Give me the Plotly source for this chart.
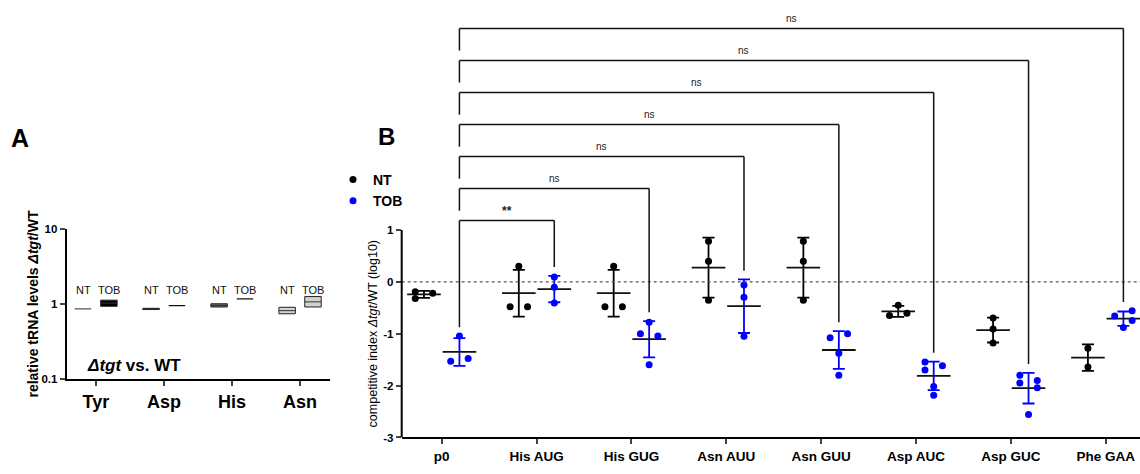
import numpy as np
import plotly.graph_objects as go

# ---------------- Panel A data ----------------
trna = ["Tyr", "Asp", "His", "Asn"]
a_nt_min = [0.854, 0.838, 0.906, 0.736]
a_nt_max = [0.854, 0.870, 1.000, 0.898]
a_nt_mean = [0.854, 0.854, 0.950, 0.810]
a_tob_min = [0.925, 0.942, 1.160, 0.906]
a_tob_max = [1.117, 0.942, 1.160, 1.247]
a_tob_mean = [1.020, 0.942, 1.160, 1.060]
a_fill = ["#000000", "#000000", "#6a6a6a", "#d2d2d2"]

# ---------------- Panel B data ----------------
codons = ["p0", "His AUG", "His GUG", "Asn AUU", "Asn GUU", "Asp AUC", "Asp GUC", "Phe GAA"]
nt_values = [
    [-0.19, -0.22, -0.32],
    [0.30, -0.48, -0.48],
    [0.30, -0.48, -0.48],
    [0.78, 0.395, -0.357],
    [0.78, 0.395, -0.357],
    [-0.45, -0.65, -0.607],
    [-0.70, -0.908, -1.18],
    [-1.28, -1.64],
]
tob_values = [
    [-1.045, -1.53, -1.48],
    [0.094, -0.105, -0.41],
    [-0.78, -1.00, -1.045, -1.60],
    [-0.062, -0.30, -1.05],
    [-1.00, -1.077, -1.378, -1.80],
    [-1.547, -1.62, -1.70, -2.017, -2.186],
    [-1.80, -1.90, -1.95, -2.04, -2.555],
    [-0.557, -0.657, -0.745, -0.883],
]
# horizontal scatter spread of the dots (layout, in category units)
nt_jitter = [
    [-1, 1, -1], [0, -1, 1], [0, -1, 1], [0, 0, 0], [0, 0, 0],
    [0, -1, 1], [0, 0, 0], [0, 0],
]
tob_jitter = [
    [0, -1, 1], [0, 0, 0], [0, -1, 1, 0], [0, 0, 0], [1, -1, 0, 0],
    [-1, 1, -1, 0, 0], [-1, 1, -1, 1, 0], [1, -1, 1, 0],
]
comparisons = ["His AUG", "His GUG", "Asn AUU", "Asn GUU", "Asp AUC", "Asp GUC", "Phe GAA"]
comp_labels = ["**", "ns", "ns", "ns", "ns", "ns", "ns"]

W, H = 1140, 474
FONT = "Liberation Sans, Arial, sans-serif"
BLUE = "#0000FF"

fig = go.Figure()

# ---------------- Panel A drawing ----------------
A_OFF = 0.19
A_HW = 0.121
for i, name in enumerate(trna):
    for off, lo, hi, mid in [(-A_OFF, a_nt_min[i], a_nt_max[i], a_nt_mean[i]),
                             (A_OFF, a_tob_min[i], a_tob_max[i], a_tob_mean[i])]:
        c = i + off
        if hi > lo:
            fig.add_trace(go.Scatter(
                x=[c - A_HW, c + A_HW, c + A_HW, c - A_HW, c - A_HW],
                y=[lo, lo, hi, hi, lo], mode="lines", fill="toself",
                fillcolor=a_fill[i], line=dict(color="#222222", width=1),
                xaxis="x", yaxis="y", showlegend=False, hoverinfo="skip"))
            fig.add_trace(go.Scatter(
                x=[c - A_HW, c + A_HW], y=[mid, mid], mode="lines",
                line=dict(color="#333333", width=1),
                xaxis="x", yaxis="y", showlegend=False, hoverinfo="skip"))
        else:
            fig.add_trace(go.Scatter(
                x=[c - A_HW, c + A_HW], y=[mid, mid], mode="lines",
                line=dict(color="#555555" if i == 0 else "#111111", width=1.3),
                xaxis="x", yaxis="y", showlegend=False, hoverinfo="skip"))

annotations = []
for i, name in enumerate(trna):
    for off, t in [(-A_OFF, "NT"), (A_OFF, "TOB")]:
        annotations.append(dict(x=i + off, y=np.log10(1.52), xref="x", yref="y",
                                xanchor="center", yanchor="middle",
                                text=t, showarrow=False,
                                font=dict(family=FONT, size=11, color="#111")))

# ---------------- Panel B drawing ----------------
G_OFF = 0.187
J = 0.092
for series, vals, jit, col, name in [(0, nt_values, nt_jitter, "#000000", "NT"),
                                     (1, tob_values, tob_jitter, BLUE, "TOB")]:
    off = -G_OFF if series == 0 else G_OFF
    xs, ys = [], []
    for k, (v, jj) in enumerate(zip(vals, jit)):
        for val, j in zip(v, jj):
            xs.append(k + off + j * J)
            ys.append(val)
    means = [float(np.mean(v)) for v in vals]
    sds = [float(np.std(v, ddof=1)) for v in vals]
    fig.add_trace(go.Scatter(
        x=[k + off for k in range(len(vals))], y=means, mode="markers",
        marker=dict(symbol="line-ew", size=24, color="#000",
                    line=dict(color="#111111", width=1.8)),
        error_y=dict(type="data", array=sds, visible=True, color=col,
                     thickness=1.8, width=6),
        xaxis="x2", yaxis="y2", showlegend=False, hoverinfo="skip"))
    fig.add_trace(go.Scatter(
        x=xs, y=ys, mode="markers", name="<b>" + name + "</b>",
        marker=dict(size=7, color=col),
        xaxis="x2", yaxis="y2", showlegend=True))

shapes = []
# zero reference line
shapes.append(dict(type="line", xref="x2", yref="y2", x0=-0.4217, x1=7.362, y0=0, y1=0,
                   line=dict(color="#555555", width=1.2, dash="dot")))
# y axis line of panel B (from -3 to 1 only)
shapes.append(dict(type="line", xref="paper", yref="y2", x0=401.7 / W, x1=401.7 / W,
                   y0=-3, y1=1, line=dict(color="#000", width=2)))


def top_of(v):
    return max(float(np.mean(v) + np.std(v, ddof=1)), max(v))


GAP = 0.17
LEVEL0 = 1.18
STEP = 0.617
LEG = 0.427
x_ref = 0 + G_OFF
for n, (target, lab) in enumerate(zip(comparisons, comp_labels)):
    k = codons.index(target)
    xt = k + G_OFF
    lvl = LEVEL0 + n * STEP
    y_right = top_of(tob_values[k]) + GAP
    y_left = top_of(tob_values[0]) + GAP if n == 0 else lvl - LEG
    ln = dict(color="#111111", width=1.5)
    shapes.append(dict(type="line", xref="x2", yref="y2", x0=x_ref, x1=x_ref, y0=y_left, y1=lvl, line=ln))
    shapes.append(dict(type="line", xref="x2", yref="y2", x0=x_ref, x1=xt, y0=lvl, y1=lvl, line=ln))
    shapes.append(dict(type="line", xref="x2", yref="y2", x0=xt, x1=xt, y0=lvl, y1=y_right, line=ln))
    annotations.append(dict(x=(x_ref + xt) / 2, y=lvl + 0.19, xref="x2", yref="y2",
                            xanchor="center", yanchor="middle",
                            text="<b>" + lab + "</b>" if lab != "ns" else lab, showarrow=False,
                            font=dict(family=FONT, size=12 if lab != "ns" else 10, color="#222")))

# panel letters and labels
C = dict(xanchor="center", yanchor="middle", showarrow=False)
annotations += [
    dict(x=20 / W, y=1 - 135 / H, xref="paper", yref="paper", text="<b>A</b>",
         font=dict(family=FONT, size=25, color="#000"), **C),
    dict(x=386.7 / W, y=1 - 134 / H, xref="paper", yref="paper", text="<b>B</b>",
         font=dict(family=FONT, size=24, color="#000"), **C),
    dict(x=134 / W, y=1 - 368.7 / H, xref="paper", yref="paper",
         text="<b><i>Δtgt</i> vs. WT</b>",
         font=dict(family=FONT, size=17, color="#000"), **C),
    dict(x=33.3 / W, y=1 - 306 / H, xref="paper", yref="paper", textangle=-90,
         text="<b>relative tRNA levels <i>Δtgt</i>/WT</b>",
         font=dict(family=FONT, size=14, color="#000"), **C),
    dict(x=372.7 / W, y=-1, xref="paper", yref="y2", textangle=-90,
         text="competitive index <i>Δtgt</i>/WT (log10)",
         font=dict(family=FONT, size=12.5, color="#000"), **C),
]

fig.update_layout(
    width=W, height=H, margin=dict(l=0, r=0, t=0, b=0),
    paper_bgcolor="white", plot_bgcolor="white",
    font=dict(family=FONT, color="#000"),
    xaxis=dict(domain=[66.7 / W, 330 / W], anchor="y", range=[-0.43, 3.44],
               tickvals=list(range(len(trna))), ticktext=["<b>" + t + "</b>" for t in trna],
               tickfont=dict(size=18), showline=True, linewidth=2, linecolor="#000",
               ticks="outside", ticklen=5, tickwidth=1.5, showgrid=False, zeroline=False),
    yaxis=dict(domain=[1 - 382.7 / H, 1 - 228.3 / H], anchor="x", type="log", range=[-1, 1],
               tickvals=[0.1, 1, 10], ticktext=["<b>0.1</b>", "<b>1</b>", "<b>10</b>"],
               tickfont=dict(size=11.5), showline=True, linewidth=2, linecolor="#000",
               ticks="outside", ticklen=5, tickwidth=1.5, showgrid=False, zeroline=False),
    xaxis2=dict(domain=[401.7 / W, 1], anchor="y2", range=[-0.4217, 7.362],
                tickvals=list(range(len(codons))), ticktext=["<b>" + c + "</b>" for c in codons],
                tickfont=dict(size=13.5), showline=True, linewidth=2, linecolor="#000",
                ticks="outside", ticklen=5, tickwidth=1.5, showgrid=False, zeroline=False),
    yaxis2=dict(domain=[1 - 442.7 / H, 1], anchor="x2", range=[-3, 5.314],
                tickvals=[-3, -2, -1, 0, 1], ticktext=["<b>%d</b>" % v for v in [-3, -2, -1, 0, 1]],
                tickfont=dict(size=11.5), showline=False,
                ticks="outside", ticklen=5, tickwidth=1.5, showgrid=False, zeroline=False),
    legend=dict(x=333 / W, y=1 - 162 / H, xanchor="left", yanchor="top",
                font=dict(family=FONT, size=14, color="#000"), bgcolor="rgba(0,0,0,0)",
                itemwidth=30, tracegroupgap=0),
    shapes=shapes, annotations=annotations,
)

fig.write_html("out.html", config={"displayModeBar": False},
               post_script="document.body.style.margin='0';")
